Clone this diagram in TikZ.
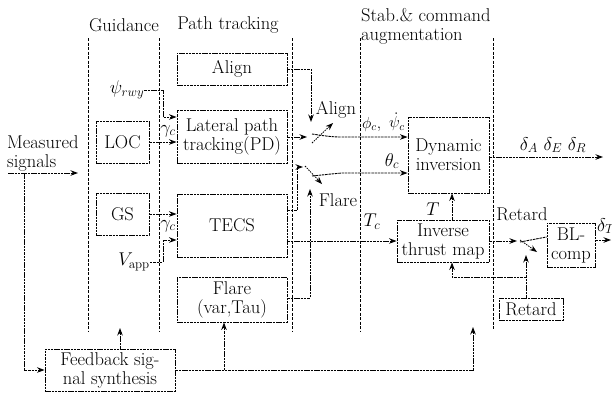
\RequirePackage{fix-cm}
\documentclass[tikz,border=0pt]{standalone}
\usetikzlibrary{arrows.meta}
\begin{document}
\begin{tikzpicture}[x=1pt,y=-1pt,
  font=\fontsize{18.5}{19}\selectfont,
  ln/.style={line width=0.9pt, dash pattern=on 2.5pt off 0.8pt},
  arr/.style={ln, -{Stealth[length=7.5pt,width=5.5pt]}},
  armln/.style={line width=0.8pt, dash pattern=on 1.5pt off 1pt, -{Stealth[length=7.5pt,width=5.5pt]}},
  blk/.style={draw, ln, inner sep=0.5pt, align=center},
  sep/.style={line width=0.8pt, dash pattern=on 3pt off 1.5pt},
  lbl/.style={inner sep=0pt}
]
\useasboundingbox (0,0) rectangle (612,392);

% headers
\node[lbl] (hg) at (124,25) {Guidance};
\node[lbl] (hp) at (228,25) {Path tracking};
\node[lbl, anchor=west, align=left] (hs) at (361,26.5) {Stab.\& command\\augmentation};

% column separators
\draw[sep] (88,38) -- (88,332);
\draw[sep] (159,38) -- (159,332);
\draw[sep] (292,38) -- (292,332);
\draw[sep] (360,38) -- (360,332);
\draw[sep] (493,38) -- (493,330);

% blocks
\node[blk, minimum width=110pt, minimum height=32pt] (align) at (232,69) {Align};
\node[blk, minimum width=110pt, minimum height=53pt] (lat) at (232,136.5) {Lateral path\\tracking(PD)};
\node[blk, minimum width=53pt, minimum height=42pt] (loc) at (122.5,142) {LOC};
\node[blk, minimum width=53pt, minimum height=42pt] (gs) at (122.5,214) {GS};
\node[blk, minimum width=110pt, minimum height=63pt] (tecs) at (232,225.5) {TECS};
\node[blk, minimum width=110pt, minimum height=45pt] (flare) at (232,299.5) {Flare\\(var,Tau)};
\node[blk, minimum width=130pt, minimum height=42pt] (fb) at (110,370) {Feedback sig-\\nal synthesis};
\node[blk, minimum width=81pt, minimum height=76pt] (dyn) at (448.5,155) {Dynamic\\inversion};
\node[blk, minimum width=92pt, minimum height=42pt] (itm) at (443,241) {Inverse\\thrust map};
\node[blk, minimum width=48pt, minimum height=44pt] (bl) at (571,245) {BL-\\comp};
\node[blk, minimum width=64pt, minimum height=22pt] (ret) at (531,309) {Retard};

% labels
\node[lbl, anchor=west, align=left] (meas) at (7,153) {Measured\\signals};
\node[lbl] (psi) at (127,90) {$\psi_{rwy}$};
\node[lbl] (g1) at (168,131) {$\gamma_c$};
\node[lbl] (g2) at (168,226) {$\gamma_c$};
\node[lbl] (vapp) at (134,262) {$V_{\mathrm{app}}$};
\node[lbl] (lal) at (336,110) {Align};
\node[lbl] (lfl) at (338,200) {Flare};
\node[lbl, anchor=west, font=\fontsize{16}{17}\selectfont] (lphi) at (362,124) {$\phi_c,$};
\node[lbl, anchor=west, font=\fontsize{16}{17}\selectfont] (lpsid) at (389,122) {$\dot{\psi}_c$};
\node[lbl] (lth) at (392,161) {$\theta_c$};
\node[lbl] (ltc) at (372,222) {$T_c$};
\node[lbl] (lt) at (433,209) {$T$};
\node[lbl] (lret) at (522,214) {Retard};
\node[lbl] (ld) at (553,145) {$\delta_A\ \delta_E\ \delta_R$};
\node[lbl] (ldt) at (606,226) {$\delta_T$};

% coordinates
\coordinate (min) at (8,173);
\coordinate (mout) at (78,173);
\coordinate (s1in) at (307,137);
\coordinate (s1top) at (311,122);
\coordinate (s2in) at (303,167);
\coordinate (s2bot) at (310,189);
\coordinate (s3in) at (517,241);
\coordinate (s3bot) at (526,255);
\coordinate (rj) at (526,277);
\coordinate (dT) at (611,240);

% measured signals and feedback
\draw[arr] (min) -- (mout);
\draw[arr] (24,173) |- (fb.west);
\draw[arr] (fb.north -| 120,0) -- (120,328);
\draw[arr] (fb.east) -| (473,327);
\draw[arr] (224,370) -- (flare.south -| 224,0);

% guidance to path tracking
\draw[arr] (psi.east) -| (163,117) -- (lat.west |- 0,117);
\draw[arr] (loc.east) -- (lat.west |- loc.east);
\draw[arr] (gs.east) -- (tecs.west |- gs.east);
\draw[arr] (vapp.east) -| (163,240) -- (tecs.west |- 0,240);

% upper switch
\draw[arr] (align.east) -- (311,69) -- (s1top);
\draw[arr] (lat.east |- s1in) -- (s1in);
\draw[armln] (312,143) -- (333,123);
\draw[arr] (312,134) .. controls (325,136) and (332,137) .. (342,137) -- (dyn.west |- 0,137);

% lower switch
\draw[arr] (tecs.east |- 0,210) -- (297,210) -- (297,167) -- (s2in);
\draw[arr] (flare.east |- 0,298) -| (s2bot);
\draw[armln] (305,166) -- (322,184);
\draw[arr] (312,176) .. controls (322,175) and (330,174) .. (342,173) -- (dyn.west |- 0,173);

% thrust path
\draw[arr] (tecs.east |- itm.west) -- (itm.west);
\draw[arr] (itm.north -| 452,0) -- (dyn.south -| 452,0);
\draw[arr] (itm.east) -- (s3in);
\draw[armln] (520,240) -- (537,252);
\draw[ln] (520,242) -- (bl.west |- 0,237);
\draw[arr] (ret.north -| 526,0) -- (s3bot);
\draw[arr] (rj) -| (itm.south -| 452,0);
\draw[arr] (bl.east |- dT) -- (dT);

% output
\draw[arr] (dyn.east |- 0,157) -- (603,157);
\end{tikzpicture}
\end{document}
